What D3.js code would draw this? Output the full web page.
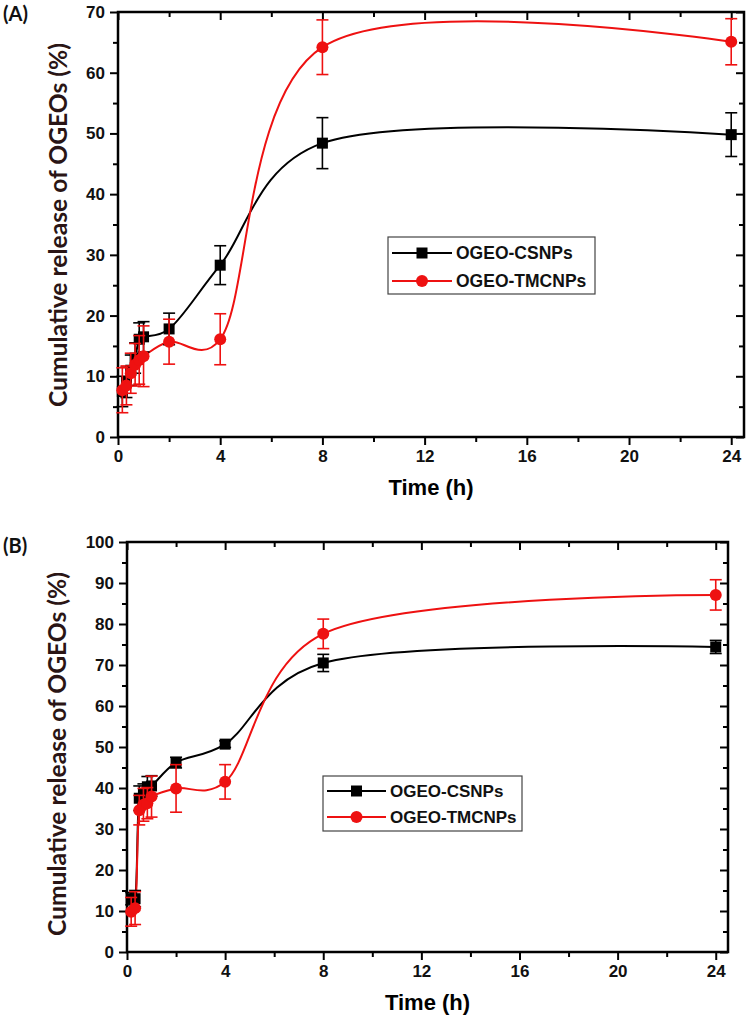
<!DOCTYPE html>
<html>
<head>
<meta charset="utf-8">
<script src="https://cdn.jsdelivr.net/npm/d3@7"></script>
<style>
  html, body { margin: 0; padding: 0; background: #fff; }
  svg { display: block; }
  .tick text { font-family: "Liberation Sans", Arial, sans-serif; font-weight: bold; font-size: 17px; fill: #111; }
</style>
</head>
<body>
<svg id="chart" width="750" height="1018"></svg>
<script>
// ---------- DATA ----------
const times = [0.17, 0.33, 0.5, 0.67, 0.83, 1, 2, 4, 8, 24];

// Panel A
const csA      = [7.5, 9.0, 11.0, 13.0, 16.1, 16.5, 17.8, 28.3, 48.4, 49.8];
const csAErr   = [2.5, 2.5, 2.5, 2.5, 2.7, 2.5, 2.6, 3.2, 4.2, 3.6];
const tmcA     = [7.7, 8.5, 10.5, 11.9, 12.7, 13.3, 15.7, 16.1, 64.2, 65.1];
const tmcAErr  = [3.7, 3.2, 3.3, 3.5, 4.0, 5.0, 3.7, 4.2, 4.5, 3.8];

// Panel B
const csB      = [13.0, 13.0, 37.5, 38.5, 40.3, 40.5, 46.2, 50.7, 70.5, 74.4];
const csBErr   = [1.5, 2.0, 3.0, 2.5, 2.5, 2.5, 1.3, 0.8, 2.1, 1.6];
const tmcB     = [9.8, 10.7, 34.6, 35.9, 36.3, 37.9, 39.9, 41.5, 77.6, 87.1];
const tmcBErr  = [3.5, 4.0, 3.6, 4.0, 3.8, 5.0, 5.8, 4.2, 3.6, 3.7];

const seriesNames = ["OGEO-CSNPs", "OGEO-TMCNPs"];
const xMajorTicks = [0, 4, 8, 12, 16, 20, 24];
const xMinorTicks = [2, 6, 10, 14, 18, 22];
const yMajorTicksA = [0, 10, 20, 30, 40, 50, 60, 70];
const yMinorTicksA = [5, 15, 25, 35, 45, 55, 65];
const yMajorTicksB = [0, 10, 20, 30, 40, 50, 60, 70, 80, 90, 100];
const yMinorTicksB = [5, 15, 25, 35, 45, 55, 65, 75, 85, 95];
const xTitle = "Time (h)";
const yTitle = "Cumulative release of OGEOs (%)";

const svg = d3.select("#chart");
const FONT = '"Liberation Sans", Arial, sans-serif';
const TITLEFONT = 'Lato, "Open Sans", sans-serif';

function drawPanel(cfg) {
  const g = svg.append("g");
  const x = d3.scaleLinear().domain([0, 24.5]).range([cfg.left, cfg.right]);
  const y = d3.scaleLinear().domain([0, cfg.ymax]).range([cfg.bottom, cfg.top]);

  const axB = d3.axisBottom(x).tickValues(xMajorTicks).tickSize(8).tickPadding(5).tickFormat(d3.format("d"));
  const axBm = d3.axisBottom(x).tickValues(xMinorTicks).tickSize(5).tickFormat("");
  const axT = d3.axisTop(x).tickValues(xMajorTicks).tickSize(-8).tickFormat("");
  const axTm = d3.axisTop(x).tickValues(xMinorTicks).tickSize(-5).tickFormat("");
  const axL = d3.axisLeft(y).tickValues(cfg.yMajor).tickSize(8).tickPadding(5).tickFormat(d3.format("d"));
  const axLm = d3.axisLeft(y).tickValues(cfg.yMinor).tickSize(5).tickFormat("");
  const axR = d3.axisRight(y).tickValues(cfg.yMajor).tickSize(-8).tickFormat("");
  const axRm = d3.axisRight(y).tickValues(cfg.yMinor).tickSize(-5).tickFormat("");

  const put = (ax, tr) => {
    const a = g.append("g").attr("transform", tr).call(ax);
    a.select(".domain").remove();
    a.selectAll(".tick line").attr("stroke", "#000").attr("stroke-width", 2);
    return a;
  };
  put(axB, `translate(0,${cfg.bottom})`);
  put(axBm, `translate(0,${cfg.bottom})`);
  put(axT, `translate(0,${cfg.top})`);
  put(axTm, `translate(0,${cfg.top})`);
  put(axL, `translate(${cfg.left},0)`);
  put(axLm, `translate(${cfg.left},0)`);
  put(axR, `translate(${cfg.right},0)`);
  put(axRm, `translate(${cfg.right},0)`);

  g.append("rect")
    .attr("x", cfg.left).attr("y", cfg.top)
    .attr("width", cfg.right - cfg.left).attr("height", cfg.bottom - cfg.top)
    .attr("fill", "none").attr("stroke", "#000").attr("stroke-width", 2.5);

  g.append("text")
    .attr("x", (cfg.left + cfg.right) / 2).attr("y", cfg.bottom + 58)
    .attr("text-anchor", "middle")
    .attr("font-family", FONT).attr("font-weight", "bold").attr("font-size", 22)
    .attr("fill", "#000")
    .text(xTitle);
  g.append("text")
    .attr("transform", `translate(${cfg.ytx},${cfg.yty}) rotate(-90)`)
    .attr("text-anchor", "middle").attr("dominant-baseline", "central")
    .attr("font-family", TITLEFONT).attr("font-weight", "bold").attr("font-size", 24)
    .attr("textLength", 364).attr("lengthAdjust", "spacingAndGlyphs")
    .attr("fill", "#2a1515")
    .text(yTitle);
  g.append("text")
    .attr("x", 3).attr("y", cfg.labelY)
    .attr("font-family", TITLEFONT).attr("font-weight", "bold").attr("font-size", 20)
    .attr("fill", "#111")
    .text(cfg.label);

  const line = d3.line()
    .x(d => x(d.t)).y(d => y(d.v))
    .curve(d3.curveCatmullRom.alpha(0.25));

  const series = [
    { vals: cfg.cs, err: cfg.csErr, color: "#000", shape: "square" },
    { vals: cfg.tmc, err: cfg.tmcErr, color: "#ee1111", shape: "circle" }
  ];
  series.forEach(s => {
    s.pts = times.map((t, i) => ({ t, v: s.vals[i], e: s.err[i] }));
  });

  series.forEach(s => {
    g.append("path")
      .attr("d", line(s.pts))
      .attr("fill", "none").attr("stroke", s.color).attr("stroke-width", 2);
  });
  series.forEach(s => {
    const eg = g.append("g").attr("stroke", s.color).attr("stroke-width", 1.6);
    s.pts.forEach(p => {
      const cx = x(p.t), y1 = y(p.v + p.e), y2 = y(p.v - p.e);
      eg.append("line").attr("x1", cx).attr("x2", cx).attr("y1", y1).attr("y2", y2);
      eg.append("line").attr("x1", cx - 6).attr("x2", cx + 6).attr("y1", y1).attr("y2", y1);
      eg.append("line").attr("x1", cx - 6).attr("x2", cx + 6).attr("y1", y2).attr("y2", y2);
    });
    if (s.shape === "square") {
      g.selectAll(null).data(s.pts).enter().append("rect")
        .attr("x", d => x(d.t) - 5.5).attr("y", d => y(d.v) - 5.5)
        .attr("width", 11).attr("height", 11).attr("fill", s.color);
    } else {
      g.selectAll(null).data(s.pts).enter().append("circle")
        .attr("cx", d => x(d.t)).attr("cy", d => y(d.v)).attr("r", 6)
        .attr("fill", s.color);
    }
  });

  const L = cfg.legend;
  g.append("rect").attr("x", L.x).attr("y", L.y).attr("width", L.w).attr("height", L.h)
    .attr("fill", "#fff").attr("stroke", "#444").attr("stroke-width", 1.2);
  series.forEach((s, i) => {
    const cy = L.y + L.row0 + i * L.dy;
    g.append("line").attr("x1", L.x + 4).attr("x2", L.lineEnd).attr("y1", cy).attr("y2", cy)
      .attr("stroke", s.color).attr("stroke-width", 2);
    const mx = (L.x + 4 + L.lineEnd) / 2;
    if (s.shape === "square") {
      g.append("rect").attr("x", mx - 5.5).attr("y", cy - 5.5).attr("width", 11).attr("height", 11).attr("fill", s.color);
    } else {
      g.append("circle").attr("cx", mx).attr("cy", cy).attr("r", 6).attr("fill", s.color);
    }
    g.append("text").attr("x", L.lineEnd + 4).attr("y", cy)
      .attr("dominant-baseline", "central")
      .attr("font-family", FONT).attr("font-weight", "bold").attr("font-size", L.fs)
      .attr("fill", "#111")
      .text(seriesNames[i]);
  });
}

drawPanel({
  label: "(A)", labelY: 21,
  left: 118, right: 744, top: 12, bottom: 437, ymax: 70,
  yMajor: yMajorTicksA, yMinor: yMinorTicksA,
  cs: csA, csErr: csAErr, tmc: tmcA, tmcErr: tmcAErr,
  ytx: 57, yty: 225,
  legend: { x: 388, y: 237, w: 207, h: 57, row0: 16, dy: 28, lineEnd: 452, fs: 17.5 }
});

drawPanel({
  label: "(B)", labelY: 553,
  left: 127, right: 728, top: 542, bottom: 952, ymax: 100,
  yMajor: yMajorTicksB, yMinor: yMinorTicksB,
  cs: csB, csErr: csBErr, tmc: tmcB, tmcErr: tmcBErr,
  ytx: 56, yty: 754,
  legend: { x: 323, y: 776, w: 199, h: 55, row0: 15, dy: 26, lineEnd: 386, fs: 17 }
});
</script>
</body>
</html>
